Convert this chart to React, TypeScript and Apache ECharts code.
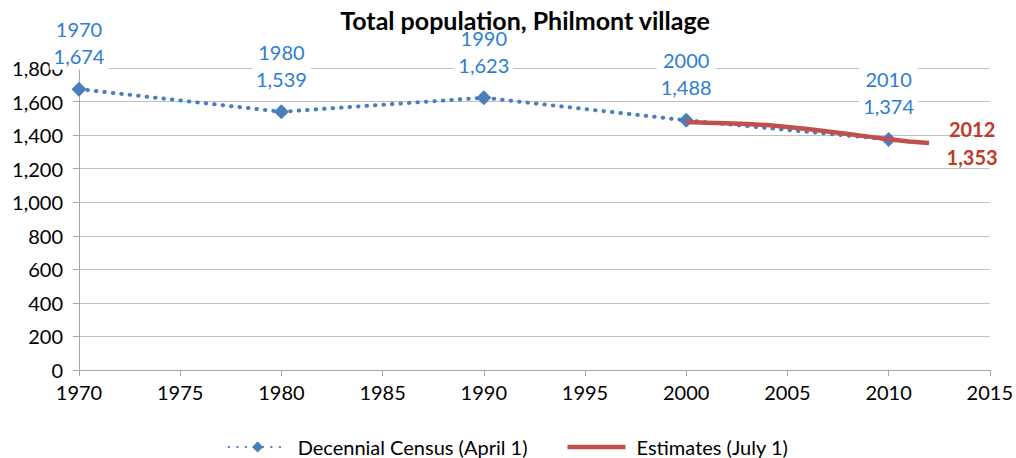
import React, { useEffect, useRef } from "react";
import * as echarts from "echarts";

const censusYears = [1970, 1980, 1990, 2000, 2010];
const censusValues = [1674, 1539, 1623, 1488, 1374];
const estimateYears = [2000, 2001, 2002, 2003, 2004, 2005, 2006, 2007, 2008, 2009, 2010, 2011, 2012];
const estimateValues = [1478, 1474, 1470, 1466, 1460, 1449, 1436, 1422, 1407, 1391, 1375, 1362, 1353];
const xTicks = { min: 1970, max: 2015, interval: 5 };
const yTicks = { min: 0, max: 1800, interval: 200 };

const FONT = "Lato, 'Open Sans', sans-serif";
const fmt = (v: number) => v.toLocaleString("en-US");

export default function App() {
  const ref = useRef<HTMLDivElement>(null);
  useEffect(() => {
    if (!ref.current) return;
    const chart = echarts.init(ref.current, undefined, { renderer: "svg" });
    chart.setOption({
      animation: false,
      textStyle: { fontFamily: FONT },
      title: {
        text: "Total population, Philmont village",
        left: 521,
        textAlign: "center",
        top: 6,
        backgroundColor: "#fff",
        padding: [1, 4, 0, 4],
        textStyle: { fontFamily: FONT, fontSize: 25, fontWeight: "bold", color: "#000" },
        z: 20,
      },
      legend: {
        top: 432,
        left: "center",
        itemWidth: 58,
        itemHeight: 14,
        itemGap: 40,
        textStyle: { fontFamily: FONT, fontSize: 20, color: "#000", padding: [0, 0, 0, 6] },
        data: [
          { name: "Decennial Census (April 1)" },
          { name: "Estimates (July 1)", icon: "path://M0 0H100V8H0Z" },
        ],
      },
      grid: { left: 79, right: 23, top: 68, bottom: 88, containLabel: false },
      xAxis: {
        type: "value",
        min: xTicks.min,
        max: xTicks.max,
        interval: xTicks.interval,
        axisLine: { show: true, lineStyle: { color: "#a6a6a6", width: 1 } },
        axisTick: { show: true, length: 6, lineStyle: { color: "#a6a6a6" } },
        splitLine: { show: false },
        axisLabel: {
          formatter: (v: number) => String(v),
          color: "#000",
          fontSize: 20,
          fontFamily: FONT,
          margin: 12,
        },
      },
      yAxis: {
        type: "value",
        min: yTicks.min,
        max: yTicks.max,
        interval: yTicks.interval,
        axisLine: { show: true, lineStyle: { color: "#a6a6a6", width: 1 } },
        axisTick: { show: true, length: 6, lineStyle: { color: "#a6a6a6" } },
        splitLine: { show: true, lineStyle: { color: "#bfbfbf", width: 1 } },
        axisLabel: {
          formatter: (v: number) => fmt(v),
          color: "#000",
          fontSize: 20,
          fontFamily: FONT,
          margin: 16,
        },
      },
      series: [
        {
          name: "Decennial Census (April 1)",
          type: "line",
          data: censusYears.map((y, i) => [y, censusValues[i]]),
          symbol: "diamond",
          symbolSize: 15,
          itemStyle: { color: "#4a7ebb" },
          lineStyle: { color: "#4a7ebb", width: 4, type: [0.5, 8], cap: "round" },
          z: 3,
          label: {
            show: true,
            position: "top",
            distance: 12,
            formatter: (p: any) => `${p.value[0]}\n${fmt(p.value[1])}`,
            color: "#2f7dd1",
            fontSize: 20,
            fontFamily: FONT,
            lineHeight: 27,
            backgroundColor: "#fff",
            padding: [0, 4, 0, 4],
          },
        },
        {
          name: "Estimates (July 1)",
          type: "line",
          data: estimateYears.map((y, i) => [y, estimateValues[i]]),
          showSymbol: false,
          symbol: "circle",
          itemStyle: { color: "#c0504d" },
          lineStyle: { color: "#c0504d", width: 4.5 },
          z: 4,
          endLabel: {
            show: true,
            distance: 43,
            align: "center",
            verticalAlign: "middle",
            formatter: (p: any) => `${p.value[0]}\n${fmt(p.value[1])}`,
            color: "#c0392b",
            fontSize: 20,
            fontWeight: "bold",
            fontFamily: FONT,
            lineHeight: 28,
          },
        },
      ],
    });
    return () => chart.dispose();
  }, []);
  return (
    <div
      ref={ref}
      style={{ position: "absolute", left: 0, top: 0, width: 1016, height: 458 }}
    />
  );
}
